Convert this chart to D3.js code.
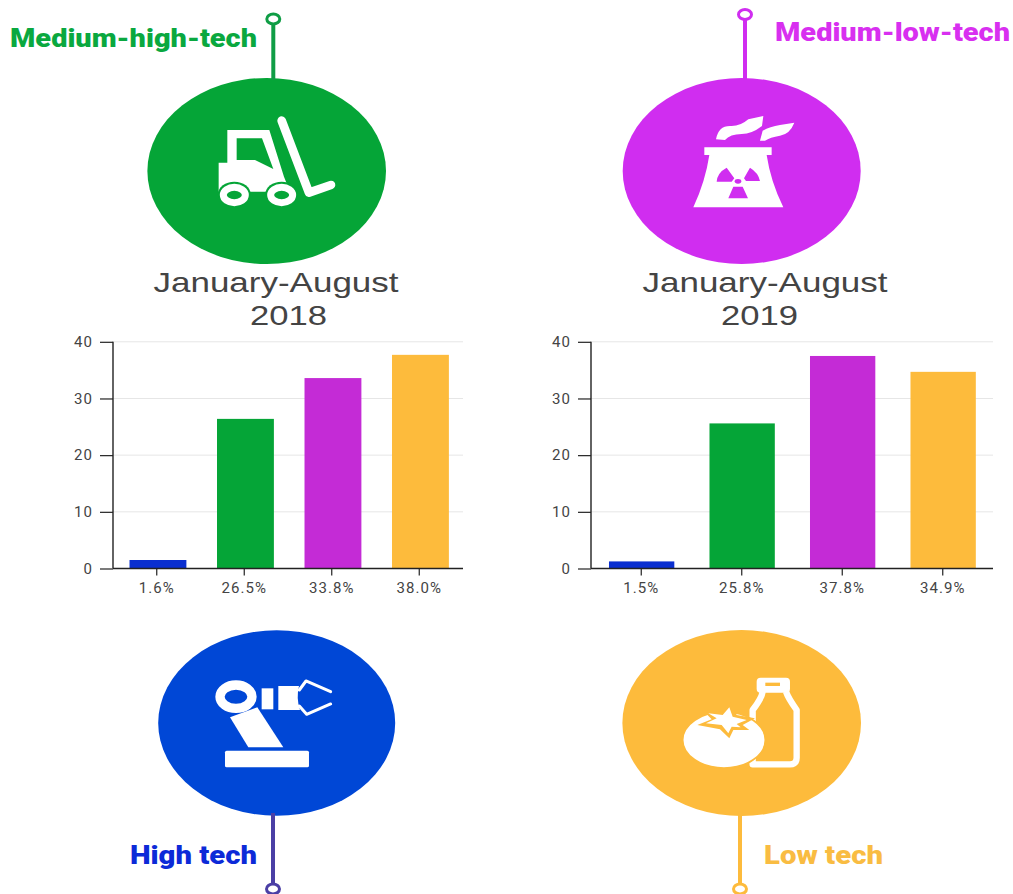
<!DOCTYPE html>
<html><head><meta charset="utf-8">
<script src="https://cdnjs.cloudflare.com/ajax/libs/d3/7.8.5/d3.min.js"></script>
<style>html,body{margin:0;padding:0;background:#fff}svg{display:block}</style>
</head><body><div id="c"></div>
<script>
const categories2018 = ["1.6%", "26.5%", "33.8%", "38.0%"];
const values2018 = [1.5, 26.4, 33.6, 37.7];
const categories2019 = ["1.5%", "25.8%", "37.8%", "34.9%"];
const values2019 = [1.25, 25.6, 37.5, 34.7];
const barColors = ["#0a2fd0", "#05a537", "#c42bd6", "#fdbb3c"];
const yTicks = [0, 10, 20, 30, 40];

const svg = d3.select("#c").append("svg").attr("width", 1013).attr("height", 894);

function chart(cats, vals, x0, x1, title, titleX, yearX, barShift) {
  const x = d3.scaleBand().domain(cats).range([x0, x1]).paddingInner(0.35).paddingOuter(0.175);
  const y = d3.scaleLinear().domain([0, 40]).range([568.5, 341.8]);
  const g = svg.append("g");
  g.selectAll("line.grid").data(yTicks.slice(1)).join("line").attr("class", "grid")
    .attr("x1", x0).attr("x2", x1).attr("y1", d => y(d)).attr("y2", d => y(d))
    .attr("stroke", "#e6e6e6").attr("stroke-width", 1);
  g.selectAll("rect").data(vals).join("rect")
    .attr("x", (d, i) => x(cats[i]) + barShift).attr("width", x.bandwidth())
    .attr("y", d => y(d)).attr("height", d => y(0) - y(d))
    .attr("fill", (d, i) => barColors[i]);
  const ax = g.append("g").attr("transform", "translate(0,568.5)").call(d3.axisBottom(x).tickSize(7).tickPadding(7));
  const ay = g.append("g").attr("transform", `translate(${x0},0)`).call(d3.axisLeft(y).tickValues(yTicks).tickSize(13).tickPadding(7));
  [ax, ay].forEach(a => {
    a.selectAll("path").attr("stroke", "#222").attr("stroke-width", 1.4);
    a.selectAll("line").attr("stroke", "#222").attr("stroke-width", 1.2);
    a.selectAll("text").attr("fill", "#444").style("font-family", "Roboto").style("font-size", "15px").style("letter-spacing", "1.1px");
  });
  ax.select("path").attr("d", `M${x0},0H${x1}`);
  ay.select("path").attr("d", `M0,341.8V568.5`);
  const tstyle = s => s.attr("text-anchor", "middle").attr("fill", "#444")
    .style("font-family", "'Liberation Sans'").style("font-size", "28px")
    .attr("lengthAdjust", "spacingAndGlyphs");
  g.append("text").call(tstyle).attr("x", titleX).attr("y", 292).attr("textLength", 245).text("January-August");
  g.append("text").call(tstyle).attr("x", yearX).attr("y", 325).attr("textLength", 77).text(title);
}
chart(categories2018, values2018, 113, 463, "2018", 276, 288.5, 1.2);
chart(categories2019, values2019, 591, 993, "2019", 765, 759.5, 0.4);

function bubble(cx, cy, rx, ry, color, stemX, stemY0, stemY1, stemColor, ringY) {
  svg.append("ellipse").attr("cx", cx).attr("cy", cy).attr("rx", rx).attr("ry", ry).attr("fill", color);
  svg.append("line").attr("x1", stemX).attr("x2", stemX).attr("y1", stemY0).attr("y2", stemY1)
    .attr("stroke", stemColor).attr("stroke-width", 4);
  svg.append("ellipse").attr("cx", stemX).attr("cy", ringY).attr("rx", 6.5).attr("ry", 5)
    .attr("fill", "#fff").attr("stroke", stemColor).attr("stroke-width", 3);
}
bubble(266.7, 171, 119.3, 93, "#05a537", 273.3, 24, 80, "#0f9d45", 19);
bubble(741.7, 171, 119, 93, "#d02df0", 745, 20, 80, "#d02df0", 14.5);
bubble(276.7, 723, 118.5, 92.8, "#0047d6", 273, 813, 884, "#4b3fa5", 889);
bubble(741.7, 723, 119.3, 93, "#fdbb3c", 740, 813, 884, "#fdbb3c", 889);

function label(txt, x, y, color, len) {
  svg.append("text").attr("x", x).attr("y", y).attr("fill", color)
    .attr("textLength", len).attr("lengthAdjust", "spacingAndGlyphs")
    .style("font-family", "Roboto").style("font-weight", "900").style("font-size", "25px").text(txt);
}
label("Medium-high-tech", 10, 47, "#0aa83f", 247);
label("Medium-low-tech", 775, 41, "#d82ff0", 235);
label("High tech", 130, 864, "#0c2ad8", 127);
label("Low tech", 764, 864, "#f9bc42", 119);

// Icons, drawn in 3x crop coordinates
const fork = svg.append("g").attr("transform", "translate(140,0) scale(0.3333)");
fork.append("path").attr("fill", "#fff").attr("fill-rule", "evenodd")
  .attr("d", "M262 390H388L432 530L450 575H236V488H262ZM290 415V480H345L400 507L366 415Z");
fork.append("path").attr("fill", "none").attr("stroke", "#fff").attr("stroke-width", 26).attr("stroke-linecap", "round").attr("stroke-linejoin", "round")
  .attr("d", "M425 362L507 578L573 555");
[283, 425].forEach(cx => {
  fork.append("ellipse").attr("cx", cx).attr("cy", 583).attr("rx", 49).attr("ry", 38).attr("fill", "#05a537");
  fork.append("ellipse").attr("cx", cx).attr("cy", 585).attr("rx", 33).attr("ry", 23)
    .attr("fill", "none").attr("stroke", "#fff").attr("stroke-width", 21);
});

const plant = svg.append("g").attr("transform", "translate(620,0) scale(0.3333)");
plant.append("path").attr("fill", "#fff").attr("d", "M253 442H455V465H440Q452 545 490 622H220Q256 545 268 465H253Z");
plant.append("path").attr("fill", "#fff").attr("d", "M288 418Q295 378 330 378Q360 380 385 358L430 348L426 378Q395 402 365 402Q330 402 315 420Z");
plant.append("path").attr("fill", "#fff").attr("d", "M420 422L428 392Q450 380 480 375L523 368Q510 402 480 407Q450 412 435 422Z");
plant.append("path").attr("fill", "#d02df0").attr("d", "M290 545Q292 518 320 503L343 535L335 545ZM372 535L390 503Q415 518 420 543H378ZM340 560L368 560L384 595H325Z");
plant.append("ellipse").attr("cx", 354).attr("cy", 544).attr("rx", 10).attr("ry", 7).attr("fill", "#d02df0");

const robot = svg.append("g").attr("transform", "translate(150,630) scale(0.3333)");
robot.append("rect").attr("x", 225).attr("y", 362).attr("width", 252).attr("height", 50).attr("rx", 5).attr("fill", "#fff");
robot.append("path").attr("fill", "#fff").attr("d", "M240 262L322 232L400 352H295Z");
robot.append("ellipse").attr("cx", 258).attr("cy", 200).attr("rx", 48).attr("ry", 35).attr("fill", "#0047d6").attr("stroke", "#fff").attr("stroke-width", 28);
robot.append("rect").attr("x", 335).attr("y", 175).attr("width", 35).attr("height", 63).attr("fill", "#fff");
robot.append("path").attr("fill", "#fff").attr("d", "M385 168H447Q438 205 450 240H385Z");
robot.append("path").attr("fill", "none").attr("stroke", "#fff").attr("stroke-width", 9).attr("stroke-linecap", "round").attr("stroke-linejoin", "round")
  .attr("d", "M448 180L468 153L542 185M448 228L470 253L542 222");

const food = svg.append("g").attr("transform", "translate(620,630) scale(0.3333)");
food.append("path").attr("fill", "none").attr("stroke", "#fff").attr("stroke-width", 19).attr("stroke-linejoin", "round")
  .attr("d", "M428 185Q425 205 398 240V403H510Q530 403 530 383V240Q505 205 498 185");
food.append("rect").attr("x", 410).attr("y", 143).attr("width", 100).attr("height", 45).attr("rx", 12).attr("fill", "#fff");
food.append("rect").attr("x", 436).attr("y", 158).attr("width", 44).attr("height", 10).attr("fill", "#fdbb3c");
food.append("ellipse").attr("cx", 312).attr("cy", 330).attr("rx", 124).attr("ry", 84).attr("fill", "#fff").attr("stroke", "#fdbb3c").attr("stroke-width", 5);
food.append("path").attr("fill", "#fdbb3c").attr("d", "M232 285L275 268L248 240L305 245L332 218L350 255L405 265L368 285L388 300L340 300L328 325L300 298Z");
food.append("path").attr("fill", "#fff").attr("d", "M258 280L290 265L265 250L308 255L328 232L338 260L380 270L350 282L362 292L335 290L325 310L305 285Z");
</script></body></html>
